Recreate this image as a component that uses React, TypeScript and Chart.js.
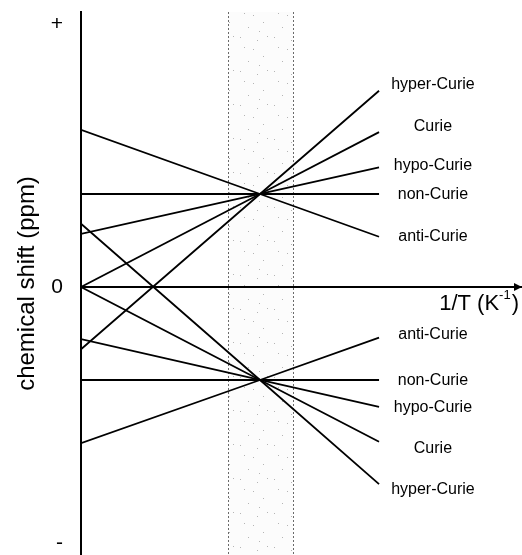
import { useEffect, useRef } from "react";
import { Chart, registerables } from "chart.js";

Chart.register(...registerables);

// 1/T positions (arbitrary units): high-temperature limit, crossing point, right end of the lines
const invT = [0, 1.0, 1.665];

// chemical shift (arbitrary units) at each invT position
const upperHyper = [-0.67, 1, 2.11];
const upperCurie = [0, 1, 1.665];
const upperHypo = [0.57, 1, 1.285];
const upperNon = [1, 1, 1];
const upperAnti = [1.69, 1, 0.54];

const lowerAnti = [-1.68, -1, -0.545];
const lowerNon = [-1, -1, -1];
const lowerHypo = [-0.56, -1, -1.29];
const lowerCurie = [0, -1, -1.665];
const lowerHyper = [0.68, -1, -2.12];

const upperNames = ["hyper-Curie", "Curie", "hypo-Curie", "non-Curie", "anti-Curie"];
const lowerNames = ["anti-Curie", "non-Curie", "hypo-Curie", "Curie", "hyper-Curie"];

// shaded temperature window on the 1/T axis
const bandRange = [0.82, 1.185];

// y tick labels
const yTickValues = [-2.75, 0, 2.83];
const yTickLabels = ["-", "0", "+"];

const xTitle = "1/T (K";
const xTitleSup = "-1";
const yTitle = "chemical shift (ppm)";

const FONT = "'Liberation Sans', Arial, Helvetica, sans-serif";

const series = [
  { name: upperNames[0], values: upperHyper, nudge: -6 },
  { name: upperNames[1], values: upperCurie, nudge: -6 },
  { name: upperNames[2], values: upperHypo, nudge: -2 },
  { name: upperNames[3], values: upperNon, nudge: 1 },
  { name: upperNames[4], values: upperAnti, nudge: 0 },
  { name: lowerNames[0], values: lowerAnti, nudge: -3 },
  { name: lowerNames[1], values: lowerNon, nudge: 1 },
  { name: lowerNames[2], values: lowerHypo, nudge: 1 },
  { name: lowerNames[3], values: lowerCurie, nudge: 7 },
  { name: lowerNames[4], values: lowerHyper, nudge: 5 },
];

const LABEL_X = 1.966; // 1/T position of the label centres

const stippleDots: [number, number][] = [
  [2, 3], [19, 6], [6, 13], [15, 15], [25, 22], [10, 27], [29, 2], [21, 31],
];

const extras = {
  id: "extras",
  beforeDraw(chart: any) {
    const { ctx, chartArea, scales } = chart;
    const x0 = scales.x.getPixelForValue(bandRange[0]);
    const x1 = scales.x.getPixelForValue(bandRange[1]);
    const tile = document.createElement("canvas");
    tile.width = 34;
    tile.height = 34;
    const tctx = tile.getContext("2d")!;
    tctx.fillStyle = "rgba(110,110,110,0.5)";
    for (const [dx, dy] of stippleDots) tctx.fillRect(dx, dy, 1, 1);
    const pattern = ctx.createPattern(tile, "repeat");
    ctx.save();
    ctx.fillStyle = "rgba(0,0,0,0.012)";
    ctx.fillRect(x0, chartArea.top, x1 - x0, chartArea.bottom - chartArea.top);
    if (pattern) {
      ctx.fillStyle = pattern;
      ctx.fillRect(x0, chartArea.top, x1 - x0, chartArea.bottom - chartArea.top);
    }
    ctx.strokeStyle = "#6a6a6a";
    ctx.lineWidth = 1;
    ctx.setLineDash([2, 2]);
    for (const x of [x0, x1]) {
      ctx.beginPath();
      ctx.moveTo(Math.round(x) + 0.5, chartArea.top);
      ctx.lineTo(Math.round(x) + 0.5, chartArea.bottom);
      ctx.stroke();
    }
    ctx.restore();
  },
  afterDraw(chart: any) {
    const { ctx, chartArea, scales } = chart;
    const y0 = scales.y.getPixelForValue(0);
    ctx.save();
    // arrow head
    const tip = chartArea.right + 1;
    ctx.fillStyle = "#000";
    ctx.beginPath();
    ctx.moveTo(tip, y0);
    ctx.lineTo(tip - 8, y0 - 4);
    ctx.lineTo(tip - 8, y0 + 4);
    ctx.closePath();
    ctx.fill();

    // x title with superscript
    const big = `22px ${FONT}`;
    const small = `13px ${FONT}`;
    ctx.textBaseline = "alphabetic";
    ctx.textAlign = "left";
    ctx.font = big;
    const w1 = ctx.measureText(xTitle).width;
    const w3 = ctx.measureText(")").width;
    ctx.font = small;
    const w2 = ctx.measureText(xTitleSup).width;
    const total = w1 + w2 + 1 + w3;
    let xs = chartArea.right - 2 - total;
    const base = y0 + 23;
    ctx.font = big;
    ctx.fillText(xTitle, xs, base);
    xs += w1;
    ctx.font = small;
    ctx.fillText(xTitleSup, xs, base - 11);
    xs += w2 + 1;
    ctx.font = big;
    ctx.fillText(")", xs, base);

    // series labels
    ctx.font = `16px ${FONT}`;
    ctx.textAlign = "center";
    ctx.textBaseline = "middle";
    const lx = scales.x.getPixelForValue(LABEL_X);
    for (const s of series) {
      const ly = scales.y.getPixelForValue(s.values[s.values.length - 1]) + s.nudge;
      ctx.fillText(s.name, lx, ly);
    }
    ctx.restore();
  },
};

export default function App() {
  const ref = useRef<HTMLCanvasElement | null>(null);
  useEffect(() => {
    document.body.style.margin = "0";
    if (!ref.current) return;
    const chart = new Chart(ref.current, {
      type: "line",
      data: {
        datasets: series.map((s) => ({
          label: s.name,
          data: invT.map((x, i) => ({ x, y: s.values[i] })),
          borderColor: "#000",
          borderWidth: 1.8,
          pointRadius: 0,
          fill: false,
          tension: 0,
        })),
      },
      options: {
        responsive: false,
        animation: false,
        layout: { padding: { top: 12, right: 1, bottom: 0, left: 0 } },
        plugins: {
          legend: { display: false },
          tooltip: { enabled: false },
        },
        scales: {
          x: {
            type: "linear",
            min: 0,
            max: 2.458,
            position: { y: 0 } as any,
            ticks: { display: false },
            grid: { display: false, drawTicks: false },
            border: { display: true, color: "#000", width: 2 },
            afterFit: (s: any) => {
              s.height = 0;
              s.paddingLeft = 0;
              s.paddingRight = 0;
            },
          },
          y: {
            type: "linear",
            min: -2.882,
            max: 2.957,
            position: "left",
            afterFit: (s: any) => {
              s.width = 81;
              s.paddingTop = 0;
              s.paddingBottom = 0;
            },
            afterBuildTicks: (s: any) => {
              s.ticks = yTickValues.map((v) => ({ value: v }));
            },
            ticks: {
              autoSkip: false,
              padding: 18,
              color: "#000",
              font: { family: FONT, size: 21 },
              callback: (_v: any, i: number) => yTickLabels[i],
            },
            grid: { display: false, drawTicks: false },
            border: { display: true, color: "#000", width: 2 },
            title: {
              display: true,
              text: yTitle,
              color: "#000",
              font: { family: FONT, size: 24 },
              padding: { top: 13, bottom: 0 },
            },
          },
        },
      },
      plugins: [extras],
    });
    return () => chart.destroy();
  }, []);
  return (
    <div style={{ width: 522, height: 555 }}>
      <canvas ref={ref} width={522} height={555} style={{ display: "block" }} />
    </div>
  );
}
